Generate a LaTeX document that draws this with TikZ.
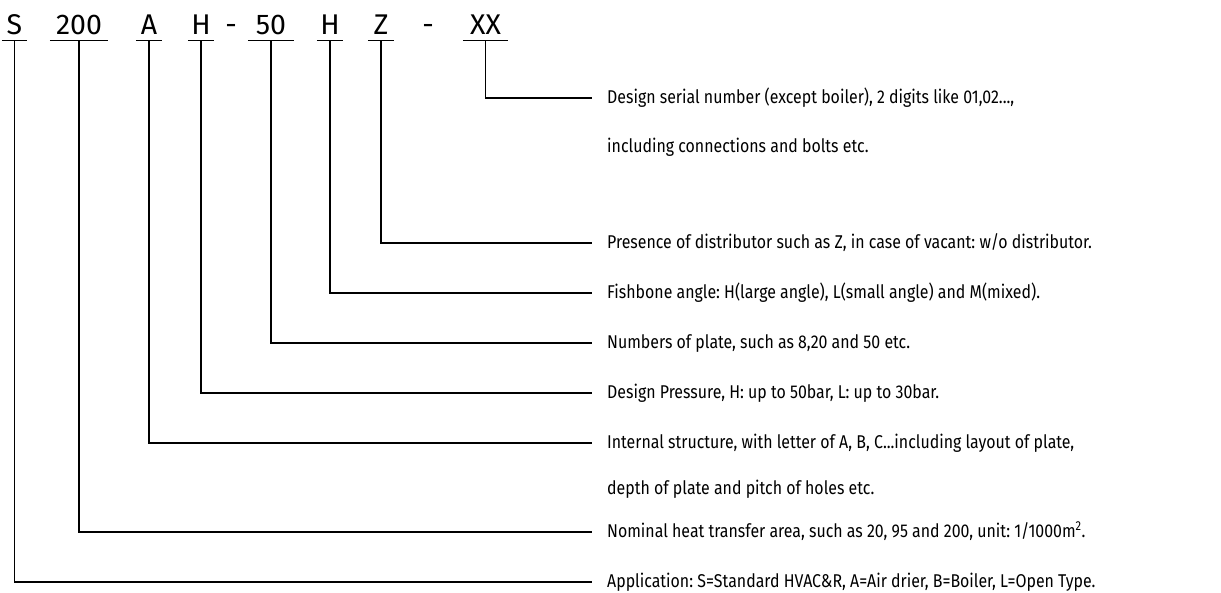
\documentclass[tikz,border=0pt]{standalone}
\usepackage{fontspec}
\setmainfont{Fira Sans}[FakeStretch=0.86]
\newfontfamily\codefont{Fira Sans}
\frenchspacing
\begin{document}
\begin{tikzpicture}[x=1pt,y=-1pt,
  code/.style={inner sep=0pt,anchor=base,font=\codefont\fontsize{28.5}{30}\selectfont,text depth=6pt},
  desc/.style={inner xsep=15pt,inner ysep=0pt,anchor=west,font=\fontsize{18.5}{20}\selectfont\frenchspacing,text height=10pt,text depth=0pt},
  uline/.style={line width=1.2pt},
  conn/.style={line width=1.2pt}]
\useasboundingbox (0,0) rectangle (1221,592);
% codes
\node[code,minimum width=25pt] (cS) at (14.5,34) {S};
\node[code,minimum width=58pt] (c200) at (79,34) {200};
\node[code,minimum width=26pt] (cA) at (149,34) {A};
\node[code,minimum width=26pt] (cH) at (201,34) {H};
\node[code] (d1) at (231,34) {-};
\node[code,minimum width=46pt] (c50) at (271,34) {50};
\node[code,minimum width=26pt] (cH2) at (330,34) {H};
\node[code,minimum width=26pt] (cZ) at (381,34) {Z};
\node[code] (d2) at (428,34) {-};
\node[code,minimum width=45pt] (cXX) at (485.5,34) {XX};
\foreach \c in {cS,c200,cA,cH,c50,cH2,cZ,cXX}
  \draw[uline] (\c.south west) -- (\c.south east);
% descriptions
\node[desc] (tXX) at (592,98) {Design serial number (except boiler), 2 digits like 01,02...,};
\node[desc] (tXXb) at (592,147) {including connections and bolts etc.};
\node[desc] (tZ) at (592,243) {Presence of distributor such as Z, in case of vacant: w/o distributor.};
\node[desc] (tH2) at (592,293) {Fishbone angle: H(large angle), L(small angle) and M(mixed).};
\node[desc] (t50) at (592,343) {Numbers of plate, such as 8,20 and 50 etc.};
\node[desc] (tH) at (592,393) {Design Pressure, H: up to 50bar, L: up to 30bar.};
\node[desc] (tA) at (592,443) {Internal structure, with letter of A, B, C...including layout of plate,};
\node[desc] (tAb) at (592,489) {depth of plate and pitch of holes etc.};
\node[desc] (t200) at (592,532) {Nominal heat transfer area, such as 20, 95 and 200, unit: 1/1000m\textsuperscript{2}.};
\node[desc] (tS) at (592,582) {Application: S=Standard HVAC\&R, A=Air drier, B=Boiler, L=Open Type.};
% connectors
\draw[conn] (cXX.south) |- (tXX.west);
\draw[conn] (cZ.south) |- (tZ.west);
\draw[conn] (cH2.south) |- (tH2.west);
\draw[conn] (c50.south) |- (t50.west);
\draw[conn] (cH.south) |- (tH.west);
\draw[conn] (cA.south) |- (tA.west);
\draw[conn] (c200.south) |- (t200.west);
\draw[conn] (cS.south) |- (tS.west);
\end{tikzpicture}
\end{document}
